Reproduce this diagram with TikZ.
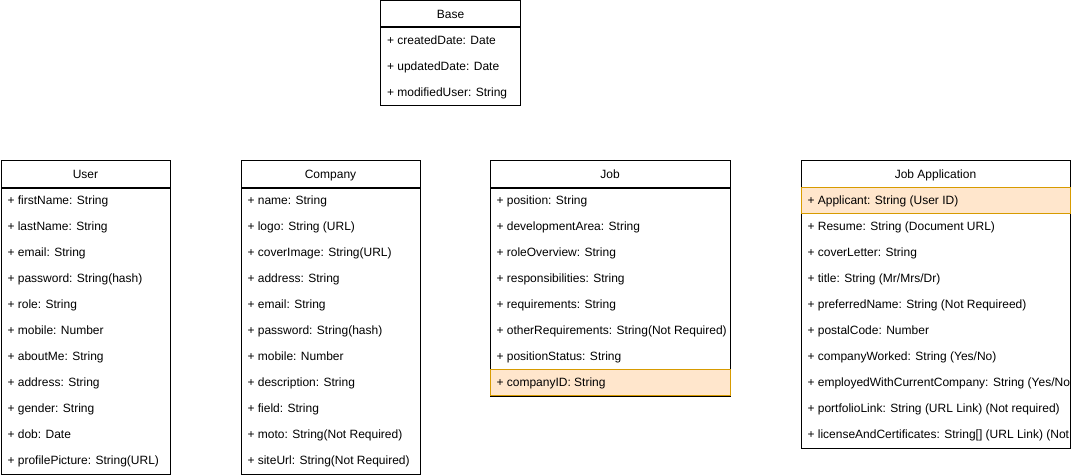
\documentclass[tikz,border=0pt]{standalone}
\usepackage{fontspec}
\setmainfont{Liberation Sans}
\usepackage{tikz}
\usetikzlibrary{positioning}
\definecolor{keyfill}{HTML}{FFE6CC}
\definecolor{keyline}{HTML}{D79B00}
\tikzset{
  head/.style={rectangle, draw, minimum height=26, inner sep=0, text height=10, text depth=1.6},
  body/.style={rectangle, draw, anchor=north west, inner sep=0},
  keyrow/.style={rectangle, draw=keyline, fill=keyfill, anchor=north west, minimum height=26, inner sep=0},
  field/.style={anchor=west, inner sep=0, text height=10, text depth=1.6}
}

\begin{document}
\begin{tikzpicture}[x=1pt, y=-1pt, line width=1pt, font=\fontsize{12}{14}\selectfont]
\useasboundingbox (0, 0) rectangle (1071, 476);
% Base
\node (base) at (450.5, 14) [head, minimum width=140] {Base};
\node (basebody) at (base.south west) [body, minimum width=140, minimum height=78] {};
\node (b1) at (386.5, 40) [field] {+ createdDate: Date};
\node (b2) at (386.5, 66) [field] {+ updatedDate: Date};
\node (b3) at (386.5, 92) [field] {+ modifiedUser: String};
% User
\node (user) at (85.5, 174) [head, minimum width=169] {User};
\node (userbody) at (user.south west) [body, minimum width=169, minimum height=286] {};
\node (u1) at (7, 200) [field] {+ firstName: String};
\node (u2) at (7, 226) [field] {+ lastName: String};
\node (u3) at (7, 252) [field] {+ email: String};
\node (u4) at (7, 278) [field] {+ password: String(hash)};
\node (u5) at (7, 304) [field] {+ role: String};
\node (u6) at (7, 330) [field] {+ mobile: Number};
\node (u7) at (7, 356) [field] {+ aboutMe: String};
\node (u8) at (7, 382) [field] {+ address: String};
\node (u9) at (7, 408) [field] {+ gender: String};
\node (u10) at (7, 434) [field] {+ dob: Date};
\node (u11) at (7, 460) [field] {+ profilePicture: String(URL)};
% Company
\node (company) at (330.5, 174) [head, minimum width=179] {Company};
\node (companybody) at (company.south west) [body, minimum width=179, minimum height=286] {};
\node (c1) at (247, 200) [field] {+ name: String};
\node (c2) at (247, 226) [field] {+ logo: String (URL)};
\node (c3) at (247, 252) [field] {+ coverImage: String(URL)};
\node (c4) at (247, 278) [field] {+ address: String};
\node (c5) at (247, 304) [field] {+ email: String};
\node (c6) at (247, 330) [field] {+ password: String(hash)};
\node (c7) at (247, 356) [field] {+ mobile: Number};
\node (c8) at (247, 382) [field] {+ description: String};
\node (c9) at (247, 408) [field] {+ field: String};
\node (c10) at (247, 434) [field] {+ moto: String(Not Required)};
\node (c11) at (247, 460) [field] {+ siteUrl: String(Not Required)};
% Job
\node (job) at (610, 174) [head, minimum width=240] {Job};
\node (jobbody) at (job.south west) [body, minimum width=240, minimum height=208] {};
\node (jobkey) at (490, 369) [keyrow, minimum width=240] {};
\node (j1) at (496, 200) [field] {+ position: String};
\node (j2) at (496, 226) [field] {+ developmentArea: String};
\node (j3) at (496, 252) [field] {+ roleOverview: String};
\node (j4) at (496, 278) [field] {+ responsibilities: String};
\node (j5) at (496, 304) [field] {+ requirements: String};
\node (j6) at (496, 330) [field] {+ otherRequirements: String(Not Required)};
\node (j7) at (496, 356) [field] {+ positionStatus: String};
\node (j8) at (496, 382) [field] {+ companyID: String};
% Job Application
\node (app) at (935.5, 174) [head, minimum width=269] {Job Application};
\node (appbody) at (app.south west) [body, minimum width=269, minimum height=260] {};
\node (appkey) at (801, 187) [keyrow, minimum width=269] {};
\node (a1) at (807, 200) [field] {+ Applicant: String (User ID)};
\node (a2) at (807, 226) [field] {+ Resume: String (Document URL)};
\node (a3) at (807, 252) [field] {+ coverLetter: String};
\node (a4) at (807, 278) [field] {+ title: String (Mr/Mrs/Dr)};
\node (a5) at (807, 304) [field] {+ preferredName: String (Not Requireed)};
\node (a6) at (807, 330) [field] {+ postalCode: Number};
\node (a7) at (807, 356) [field] {+ companyWorked: String (Yes/No)};
\node (a8) at (807, 382) [field] {+ employedWithCurrentCompany: String (Yes/No)};
\node (a9) at (807, 408) [field] {+ portfolioLink: String (URL Link) (Not required)};
\node (a10) at (807, 434) [field] {+ licenseAndCertificates: String[] (URL Link) (Not Required)};
\end{tikzpicture}
\end{document}
